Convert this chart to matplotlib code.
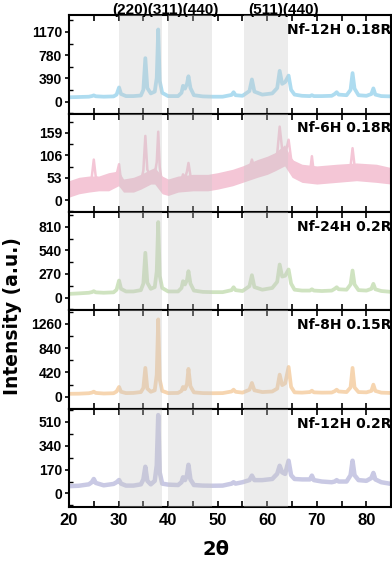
import matplotlib
matplotlib.use("Agg")
import matplotlib.pyplot as plt
from matplotlib.ticker import MultipleLocator

# shared 2-theta grid (deg)
two_theta = [20, 22, 24, 24.6, 25.0, 25.4, 27, 29, 29.6, 30.1,
             30.5, 31.5, 33, 34.5, 35.0, 35.4, 35.8, 36.5, 37.3, 37.7,
             38.0, 38.3, 38.8, 40, 42, 42.7, 43.0, 43.4, 43.8, 44.1,
             44.5, 45.2, 47, 49, 51, 52.8, 53.2, 53.6, 55, 56.4,
             56.9, 57.4, 59, 61, 62.0, 62.5, 63.0, 63.6, 64.3, 64.8,
             65.5, 67, 68.6, 69.0, 69.4, 71, 73, 73.6, 74.0, 74.4,
             76, 76.8, 77.2, 77.6, 78.4, 80, 81.0, 81.4, 81.8, 83,
             85]

nf12h_018 = [75, 80, 85, 95, 107, 92, 85, 90, 120, 240,
             130, 95, 95, 105, 200, 730, 230, 140, 170, 400,
             1210, 350, 150, 95, 95, 150, 267, 220, 300, 427,
             230, 110, 90, 85, 85, 115, 160, 110, 100, 180,
             374, 170, 120, 140, 230, 518, 300, 330, 438, 200,
             120, 100, 95, 110, 95, 95, 100, 130, 160, 120,
             110, 200, 480, 220, 110, 100, 130, 224, 120, 95,
             90]

nf6h_018 = [28, 36, 40, 55, 96, 55, 42, 48, 60, 85,
            45, 36, 36, 44, 70, 152, 72, 56, 62, 90,
            162, 78, 38, 30, 38, 48, 61, 52, 68, 88,
            58, 42, 42, 42, 46, 52, 58, 55, 62, 74,
            96, 76, 76, 90, 110, 174, 120, 108, 143, 98,
            84, 66, 64, 104, 64, 60, 62, 64, 66, 64,
            66, 80, 123, 82, 68, 66, 66, 68, 66, 64,
            58]

# noise band of the 6H pattern (upper / lower edges)
band_x = [20, 22, 24, 26, 28, 30, 31, 33, 34.5, 36.5,
          37.3, 38.8, 40, 42, 45, 48, 50, 53, 55, 58,
          60, 61.5, 63.5, 65, 67, 70, 74, 78, 82, 85]
band_hi = [46, 54, 57, 57, 65, 69, 50, 54, 61, 73,
           77, 57, 50, 57, 61, 61, 65, 73, 81, 96,
           104, 112, 131, 96, 85, 81, 85, 88, 85, 77]
band_lo = [7, 15, 19, 22, 22, 34, 19, 19, 26, 38,
           38, 15, 11, 19, 22, 22, 26, 34, 42, 54,
           61, 69, 81, 54, 42, 38, 42, 46, 42, 38]

nf24h_02 = [42, 48, 55, 62, 73, 60, 55, 60, 90, 195,
            100, 70, 70, 85, 160, 512, 170, 100, 120, 300,
            863, 250, 110, 70, 70, 110, 187, 150, 200, 302,
            160, 80, 65, 62, 62, 85, 118, 85, 75, 130,
            256, 120, 90, 110, 180, 378, 240, 250, 321, 160,
            90, 80, 80, 95, 80, 75, 80, 100, 118, 95,
            90, 150, 309, 150, 85, 80, 100, 157, 95, 75,
            65]

nf8h_015 = [50, 52, 60, 70, 87, 65, 55, 60, 90, 168,
            85, 62, 65, 80, 150, 497, 140, 85, 110, 380,
            1335, 300, 100, 62, 65, 100, 168, 130, 220, 480,
            180, 75, 62, 60, 62, 90, 121, 85, 70, 120,
            237, 110, 80, 90, 140, 381, 200, 230, 514, 170,
            75, 70, 80, 104, 75, 70, 72, 95, 121, 90,
            80, 160, 497, 160, 80, 75, 100, 208, 100, 70,
            64]

nf12h_02 = [52, 55, 65, 80, 103, 75, 58, 68, 80, 96,
            70, 56, 56, 65, 100, 190, 90, 65, 90, 200,
            557, 150, 70, 63, 60, 80, 115, 95, 130, 204,
            100, 60, 56, 55, 56, 70, 80, 70, 80, 95,
            127, 95, 95, 103, 140, 197, 150, 139, 233, 130,
            103, 100, 100, 127, 95, 85, 80, 85, 95, 85,
            85, 130, 233, 130, 95, 90, 110, 146, 100, 80,
            68]

labels = ['Nf-12H 0.18R', 'Nf-6H 0.18R', 'Nf-24H 0.2R', 'Nf-8H 0.15R', 'Nf-12H 0.2R']
series = [nf12h_018, nf6h_018, nf24h_02, nf8h_015, nf12h_02]
colors = ['#aedcf0', '#f4c6d6', '#cfe3c0', '#f6d5b0', '#c9c9e4']
ytick_step = [390, 53, 270, 420, 170]
ylims = [(-197, 1450), (-28, 205), (-146, 979), (-208, 1491), (-97, 602)]

shaded = [(30.1, 38.85), (40.0, 48.8), (55.4, 64.2)]

fig, axes = plt.subplots(5, 1, sharex=True, figsize=(3.92, 5.61), dpi=100,
                         gridspec_kw=dict(hspace=0))
fig.subplots_adjust(left=0.176, right=0.998, top=0.973, bottom=0.096)

for i, ax in enumerate(axes):
    if i == 1:
        ax.fill_between(band_x, band_lo, band_hi, color=colors[i], lw=0, zorder=2)
        ax.plot(two_theta, series[i], color=colors[i], lw=1.8, zorder=2)
    elif i == 4:
        ax.plot(two_theta, series[i], color=colors[i], lw=3.2, zorder=2)
    else:
        ax.plot(two_theta, series[i], color=colors[i], lw=2.7, zorder=2)
    for a, b in shaded:
        ax.axvspan(a, b, color='#c8c8c8', alpha=0.34, lw=0, zorder=3)

    step = ytick_step[i]
    ax.set_ylim(*ylims[i])
    ax.set_yticks([0, step, 2 * step, 3 * step])
    ax.yaxis.set_minor_locator(MultipleLocator(step / 2))
    ax.set_xlim(20, 85)
    ax.xaxis.set_major_locator(MultipleLocator(10))
    ax.xaxis.set_minor_locator(MultipleLocator(5))

    ax.tick_params(axis='x', which='both', direction='in', top=True,
                   length=4, width=1.2, labelsize=12, pad=4)
    ax.tick_params(axis='y', which='major', direction='out', length=3,
                   width=1.2, labelsize=10, pad=2)
    ax.tick_params(axis='y', which='minor', direction='in', length=3, width=1.0)
    for lab in ax.get_yticklabels() + ax.get_xticklabels():
        lab.set_fontfamily('Liberation Sans')
        lab.set_fontweight('bold')
    for sp in ax.spines.values():
        sp.set_linewidth(1.5)

    ax.text(1.0, 0.85, labels[i], transform=ax.transAxes, ha='right', va='center',
            fontsize=10, fontweight='bold', family='DejaVu Sans', zorder=5)

# peak indices above the first panel
axes[0].annotate('(220)(311)(440)', xy=(39.4, 1.05), xycoords=('data', 'axes fraction'),
                 ha='center', va='center', fontsize=11, fontweight='bold',
                 family='Liberation Sans', annotation_clip=False)
axes[0].annotate('(511)(440)', xy=(63.3, 1.05), xycoords=('data', 'axes fraction'),
                 ha='center', va='center', fontsize=11, fontweight='bold',
                 family='Liberation Sans', annotation_clip=False)

fig.text(0.031, 0.437, 'Intensity (a.u.)', rotation=90, ha='center', va='center',
         fontsize=13.5, fontweight='bold', family='DejaVu Sans')
fig.text(0.551, 0.02, '2θ', ha='center', va='center',
         fontsize=14, fontweight='bold', family='DejaVu Sans')

fig.savefig('out.png', dpi=100)
